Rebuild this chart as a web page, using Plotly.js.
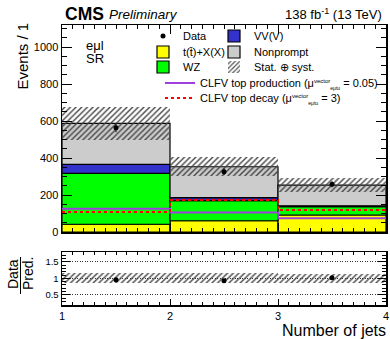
<!DOCTYPE html>
<html>
<head>
<meta charset="utf-8">
<script src="https://cdn.plot.ly/plotly-3.0.1.min.js"></script>
<style>html,body{margin:0;padding:0;background:#fff;}#chart{width:390px;height:339px;}</style>
</head>
<body>
<div id="chart"></div>
<script>
// ---- data ----
const binCenters = [1.5, 2.5, 3.5];
const binEdges = [1, 2, 3, 4];
const ttX = [42, 61, 92];          // t(tbar)+X(X)
const wz = [275, 109, 45];         // WZ
const vvv = [49, 16, 5];           // VV(V)
const nonprompt = [222, 167, 112]; // Nonprompt
const statSyst = [88, 52, 36];     // total uncertainty (half-width)
const dataVals = [564, 326, 258];
const dataErr = [24, 18, 16];
const clfvProd = [126, 106, 74];
const clfvDecay = [108, 173, 119];

// ---- derived ----
const add = (a, b) => a.map((v, i) => v + b[i]);
const base_wz = ttX.slice();
const base_vvv = add(base_wz, wz);
const base_np = add(base_vvv, vvv);
const total = add(base_np, nonprompt);
const step = arr => arr.concat([arr[arr.length - 1]]);

const FONT = 'Liberation Sans, Arial, Helvetica, sans-serif';
const W = 390, H = 339;
const L = 62, R = 4, T = 25, B = 34;
const pw = W - L - R, ph = H - T - B;
const px = x => (x - L) / pw;
const py = y => (H - B - y) / ph;

const outline = {color: '#000', width: 1.2};
const hatch = {shape: '/', fgcolor: '#444', bgcolor: 'rgba(0,0,0,0)', size: 4, solidity: 0.35, fillmode: 'replace'};
const muLabel = '\u03bc<sup><span style="font-size:6px">vector</span></sup><sub><span style="font-size:5px">e\u03bctu</span></sub>';

const traces = [];
function bar(name, y, base, color, legend) {
  traces.push({
    type: 'bar', name: name, x: binCenters, y: y, base: base, width: 1,
    marker: {color: color, line: outline}, xaxis: 'x', yaxis: 'y',
    legend: legend, hoverinfo: 'skip'
  });
}
bar('t(t\u0304)+X(X)', ttX, [0, 0, 0], '#ffff00', 'legend3');
bar('WZ', wz, base_wz, '#00ff00', 'legend5');
bar('VV(V)', vvv, base_vvv, '#3333cc', 'legend2');
bar('Nonprompt', nonprompt, base_np, '#cccccc', 'legend4');
// uncertainty band
traces.push({
  type: 'bar', name: 'Stat. \u2295 syst.', x: binCenters,
  y: statSyst.map(u => 2 * u), base: total.map((t, i) => t - statSyst[i]), width: 1,
  marker: {color: 'rgba(0,0,0,0)', line: {width: 0}, pattern: hatch},
  xaxis: 'x', yaxis: 'y', legend: 'legend6', hoverinfo: 'skip'
});
// signals
traces.push({
  type: 'scatter', mode: 'lines', name: 'CLFV top production (' + muLabel + ' = 0.05)',
  x: binEdges, y: step(clfvProd), line: {shape: 'hv', color: '#a040e0', width: 2},
  xaxis: 'x', yaxis: 'y', legend: 'legend7', hoverinfo: 'skip'
});
traces.push({
  type: 'scatter', mode: 'lines', name: 'CLFV top decay (' + muLabel + ' = 3)',
  x: binEdges, y: step(clfvDecay), line: {shape: 'hv', color: '#ff0000', width: 2, dash: 'dot'},
  xaxis: 'x', yaxis: 'y', legend: 'legend8', hoverinfo: 'skip'
});
// data
traces.push({
  type: 'scatter', mode: 'markers', name: 'Data', x: binCenters, y: dataVals,
  marker: {color: '#000', size: 5},
  error_y: {type: 'data', array: dataErr, color: '#000', thickness: 1, width: 0},
  xaxis: 'x', yaxis: 'y', legend: 'legend', hoverinfo: 'skip'
});
// ratio band
traces.push({
  type: 'bar', name: 'ratio unc', x: binCenters,
  y: statSyst.map((u, i) => 2 * u / total[i]), base: statSyst.map((u, i) => 1 - u / total[i]), width: 1,
  marker: {color: 'rgba(0,0,0,0)', line: {width: 0}, pattern: hatch},
  xaxis: 'x2', yaxis: 'y2', showlegend: false, hoverinfo: 'skip'
});
traces.push({
  type: 'scatter', mode: 'markers', name: 'ratio', x: binCenters,
  y: dataVals.map((d, i) => d / total[i]),
  marker: {color: '#000', size: 5},
  error_y: {type: 'data', array: dataErr.map((e, i) => e / total[i]), color: '#000', thickness: 1, width: 0},
  xaxis: 'x2', yaxis: 'y2', showlegend: false, hoverinfo: 'skip'
});

const axBase = {
  showline: true, linecolor: '#000', linewidth: 1.5, mirror: 'allticks',
  ticks: 'inside', tickcolor: '#000', zeroline: false, showgrid: false,
  tickfont: {family: FONT, size: 11, color: '#000'}
};

function leg(xPx, yPx) {
  return {
    xref: 'paper', yref: 'paper',
    x: px(xPx), y: py(yPx), xanchor: 'left', yanchor: 'middle',
    font: {family: FONT, size: 11, color: '#000'}, bgcolor: 'rgba(0,0,0,0)',
    borderwidth: 0, itemwidth: 30
  };
}

const annFont = (s, extra) => Object.assign({family: FONT, size: s, color: '#000'}, extra || {});
const annotations = [
  {text: '<b>CMS</b>', x: px(63), y: py(14), xanchor: 'left', yanchor: 'middle', font: annFont(17.5)},
  {text: '<i>Preliminary</i>', x: px(107), y: py(15), xanchor: 'left', yanchor: 'middle', font: annFont(13.5)},
  {text: '138 fb<sup>-1</sup> (13 TeV)', x: px(384), y: py(14), xanchor: 'right', yanchor: 'middle', font: annFont(13)},
  {text: 'e\u03bcl', x: px(84), y: py(46), xanchor: 'left', yanchor: 'middle', font: annFont(13)},
  {text: 'SR', x: px(84), y: py(58), xanchor: 'left', yanchor: 'middle', font: annFont(13)},
  {text: 'Events / 1', x: px(22), y: py(21), xanchor: 'center', yanchor: 'top', textangle: -90, font: annFont(15)},
  {text: 'Number of jets', x: px(388), y: py(330), xanchor: 'right', yanchor: 'middle', font: annFont(16)},
  {text: 'Data', x: px(13), y: py(274), xanchor: 'center', yanchor: 'middle', textangle: -90, font: annFont(14)},
  {text: 'Pred.', x: px(28), y: py(274), xanchor: 'center', yanchor: 'middle', textangle: -90, font: annFont(14)}
].map(a => Object.assign({xref: 'paper', yref: 'paper', showarrow: false}, a));

const layout = {
  width: W, height: H,
  margin: {l: L, r: R, t: T, b: B, pad: 0, autoexpand: false},
  paper_bgcolor: '#fff', plot_bgcolor: 'rgba(0,0,0,0)',
  barmode: 'overlay', bargap: 0,
  font: {family: FONT, color: '#000'},
  xaxis: Object.assign({}, axBase, {
    domain: [0, 1], range: [1, 4], anchor: 'y', matches: 'x2', showticklabels: false,
    dtick: 1, tick0: 1, ticklen: 9, minor: {ticks: 'inside', dtick: 0.1, tick0: 1, ticklen: 4, tickcolor: '#000'}
  }),
  yaxis: Object.assign({}, axBase, {
    domain: [py(232), 1], range: [0, 1120], anchor: 'x',
    dtick: 200, tick0: 0, ticklen: 10, minor: {ticks: 'inside', dtick: 50, tick0: 0, ticklen: 5, tickcolor: '#000'}
  }),
  xaxis2: Object.assign({}, axBase, {
    domain: [0, 1], range: [1, 4], anchor: 'y2',
    dtick: 1, tick0: 1, ticklen: 6, minor: {ticks: 'inside', dtick: 0.1, tick0: 1, ticklen: 3, tickcolor: '#000'}
  }),
  yaxis2: Object.assign({}, axBase, {
    domain: [0, py(252)], range: [0.19, 1.8], anchor: 'x2',
    dtick: 0.5, tick0: 0, ticklen: 8, tickfont: {family: FONT, size: 9.5, color: '#000'},
    showgrid: true, gridcolor: '#333', gridwidth: 1, griddash: '1px,1.5px',
    minor: {ticks: 'inside', dtick: 0.1, tick0: 0, ticklen: 4, tickcolor: '#000'}
  }),
  legend: leg(143, 36),
  legend2: leg(214, 36),
  legend3: leg(143, 52),
  legend4: leg(214, 52),
  legend5: leg(143, 67),
  legend6: leg(214, 67),
  legend7: leg(160, 83),
  legend8: leg(160, 98),
  annotations: annotations,
  shapes: [
    {type: 'line', xref: 'paper', yref: 'paper', x0: px(20.5), x1: px(20.5), y0: py(257), y1: py(294), line: {color: '#000', width: 1}}
  ]
};

Plotly.newPlot('chart', traces, layout, {staticPlot: true, displayModeBar: false});
</script>
</body>
</html>
